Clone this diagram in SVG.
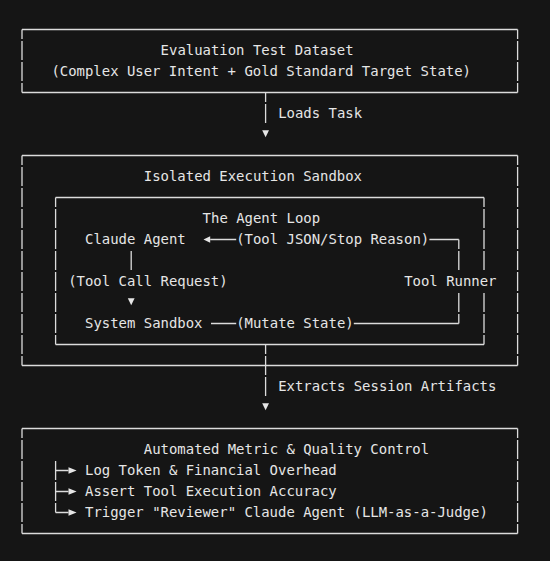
<svg xmlns="http://www.w3.org/2000/svg" width="550" height="561" viewBox="0 0 550 561">
<style>
  .t { font-family: "DejaVu Sans Mono", "Liberation Mono", monospace; font-size: 13.95px; fill: #e6e6e6; }
  .h { stroke: #dcdcdc; stroke-width: 1.3; fill: none; }
  .v { stroke: #dcdcdc; stroke-width: 1.3; fill: none; stroke-dasharray: 19 2; stroke-dashoffset: 9.5; }
  .ah { fill: #e6e6e6; }
</style>
<rect x="0" y="0" width="550" height="561" fill="#151515"/>

<g id="dataset">
  <path class="h" d="M22 29.5 H517.6 M22 92.5 H517.6"/>
  <line class="v" x1="22" y1="29.5" x2="22" y2="92.5"/>
  <line class="v" x1="517.6" y1="29.5" x2="517.6" y2="92.5"/>
  <text class="t" x="160.6" y="54.8">Evaluation Test Dataset</text>
  <text class="t" x="51.4" y="75.8">(Complex User Intent + Gold Standard Target State)</text>
</g>

<g id="sandbox">
  <path class="h" d="M22 155.5 H517.6 M22 365.5 H517.6"/>
  <line class="v" x1="22" y1="155.5" x2="22" y2="365.5"/>
  <line class="v" x1="517.6" y1="155.5" x2="517.6" y2="365.5"/>
  <text class="t" x="143.8" y="180.8">Isolated Execution Sandbox</text>
</g>

<g id="agent-loop">
  <path class="h" d="M55.6 197.5 H484 M55.6 344.5 H484"/>
  <line class="v" x1="55.6" y1="197.5" x2="55.6" y2="344.5"/>
  <line class="v" x1="484" y1="197.5" x2="484" y2="271"/>
  <line class="v" x1="484" y1="292" x2="484" y2="344.5" style="stroke-dashoffset:20"/>
  <text class="t" x="202.6" y="222.8">The Agent Loop</text>
</g>

<g id="claude-agent">
  <text class="t" x="85" y="243.8">Claude Agent</text>
</g>

<g id="tool-runner">
  <text class="t" x="404.2" y="285.8">Tool Runner</text>
</g>

<g id="system-sandbox">
  <text class="t" x="85" y="327.8">System Sandbox</text>
</g>

<g id="quality-control">
  <path class="h" d="M22 428.5 H517.6 M22 533.5 H517.6"/>
  <line class="v" x1="22" y1="428.5" x2="22" y2="533.5"/>
  <line class="v" x1="517.6" y1="428.5" x2="517.6" y2="533.5"/>
  <text class="t" x="143.8" y="453.8">Automated Metric &amp; Quality Control</text>
  <line class="v" x1="55.6" y1="460" x2="55.6" y2="512.5" style="stroke-dashoffset:20"/>
  <path class="h" d="M55.6 470.5 H68.5 M55.6 491.5 H68.5 M55.6 512.5 H68.5"/>
  <polygon class="ah" points="68.5,467.3 68.5,473.7 76.6,470.5"/>
  <polygon class="ah" points="68.5,488.3 68.5,494.7 76.6,491.5"/>
  <polygon class="ah" points="68.5,509.3 68.5,515.7 76.6,512.5"/>
  <text class="t" x="85" y="474.8">Log Token &amp; Financial Overhead</text>
  <text class="t" x="85" y="495.8">Assert Tool Execution Accuracy</text>
  <text class="t" x="85" y="516.8">Trigger "Reviewer" Claude Agent (LLM-as-a-Judge)</text>
</g>

<g id="connectors">
  <!-- dataset to sandbox -->
  <line class="v" x1="265.6" y1="92.5" x2="265.6" y2="124"/>
  <polygon class="ah" points="262.2,130.3 269,130.3 265.6,137.2"/>
  <text class="t" x="278.2" y="117.8">Loads Task</text>

  <!-- tool runner to claude agent -->
  <path class="h" d="M210.2 239.5 H236.2 M429.4 239.5 H458.8"/>
  <line class="v" x1="458.8" y1="239.5" x2="458.8" y2="271"/>
  <polygon class="ah" points="203.5,239.5 210.2,236.2 210.2,242.8"/>
  <text class="t" x="236.2" y="243.8">(Tool JSON/Stop Reason)</text>

  <!-- claude agent to system sandbox -->
  <line class="v" x1="131.2" y1="250" x2="131.2" y2="271" style="stroke-dashoffset:20"/>
  <text class="t" x="68.2" y="285.8">(Tool Call Request)</text>
  <polygon class="ah" points="127.8,298.3 134.6,298.3 131.2,305.2"/>

  <!-- system sandbox to tool runner -->
  <line class="v" x1="458.8" y1="292" x2="458.8" y2="323.5" style="stroke-dashoffset:20"/>
  <path class="h" d="M211 323.5 H236.2 M353.8 323.5 H458.8"/>
  <text class="t" x="236.2" y="327.8">(Mutate State)</text>

  <!-- sandbox to quality control -->
  <line class="v" x1="265.6" y1="344.5" x2="265.6" y2="397"/>
  <polygon class="ah" points="262.2,403.3 269,403.3 265.6,410.2"/>
  <text class="t" x="278.2" y="390.8">Extracts Session Artifacts</text>
</g>
</svg>
